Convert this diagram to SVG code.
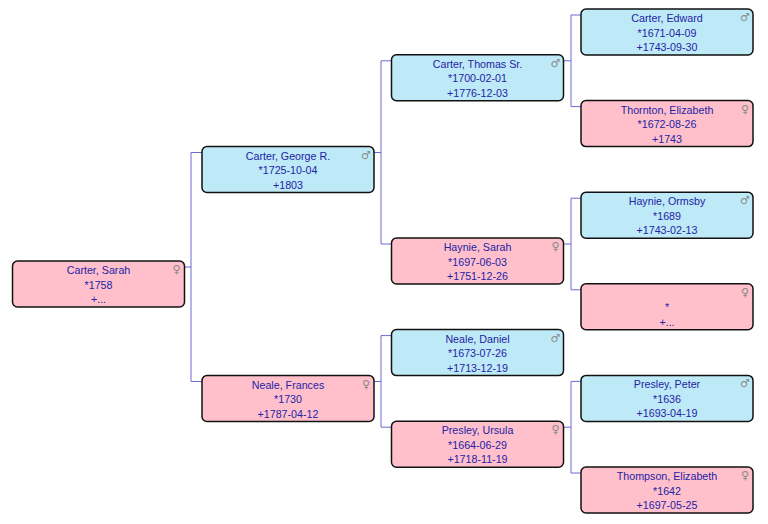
<svg xmlns="http://www.w3.org/2000/svg" width="768" height="524" viewBox="0 0 768 524">
<style>
.box{stroke:#111;stroke-width:1.5}
.m{fill:#bee9f6}
.f{fill:#ffc0cb}
.t{font-family:"Liberation Sans",Arial,sans-serif;font-size:10.7px;fill:#2323a6;text-anchor:middle}
.g{font-family:"DejaVu Sans",sans-serif;font-size:11px;fill:#8a8a8a;text-anchor:middle}
.c{fill:none;stroke:#6b6bd4;stroke-width:1}
</style>
<rect width="768" height="524" fill="#fff"/>
<g id="connectors">
<path class="c" d="M184.5,267 H191 M191,152.5 V381.5 M191,152.5 H202 M191,381.5 H202"/>
<path class="c" d="M374,152.5 H381 M381,60.8 V244 M381,60.8 H391.5 M381,244 H391.5"/>
<path class="c" d="M374,381.5 H381 M381,335.6 V427.2 M381,335.6 H391.5 M381,427.2 H391.5"/>
<path class="c" d="M563.5,60.8 H571 M571,15 V106.6 M571,15 H581 M571,106.6 H581"/>
<path class="c" d="M563.5,244 H571 M571,198.2 V289.8 M571,198.2 H581 M571,289.8 H581"/>
<path class="c" d="M563.5,427.2 H571 M571,381.4 V473 M571,381.4 H581 M571,473 H581"/>
</g>
<g id="sarah">
<rect class="box f" x="12.5" y="261" width="172" height="46" rx="5"/>
<text class="t" x="98.5" y="274">Carter, Sarah</text>
<text class="t" x="98.5" y="288.5">*1758</text>
<text class="t" x="98.5" y="303">+...</text>
<text class="g" x="176.5" y="273">♀</text>
</g>
<g id="george">
<rect class="box m" x="202" y="146.5" width="172" height="46" rx="5"/>
<text class="t" x="288" y="159.5">Carter, George R.</text>
<text class="t" x="288" y="174">*1725-10-04</text>
<text class="t" x="288" y="188.5">+1803</text>
<text class="g" x="366" y="158.5">♂</text>
</g>
<g id="frances">
<rect class="box f" x="202" y="375.5" width="172" height="46" rx="5"/>
<text class="t" x="288" y="388.5">Neale, Frances</text>
<text class="t" x="288" y="403">*1730</text>
<text class="t" x="288" y="417.5">+1787-04-12</text>
<text class="g" x="366" y="387.5">♀</text>
</g>
<g id="thomas">
<rect class="box m" x="391.5" y="54.8" width="172" height="46" rx="5"/>
<text class="t" x="477.5" y="67.8">Carter, Thomas Sr.</text>
<text class="t" x="477.5" y="82.3">*1700-02-01</text>
<text class="t" x="477.5" y="96.8">+1776-12-03</text>
<text class="g" x="555.5" y="66.8">♂</text>
</g>
<g id="haynie-sarah">
<rect class="box f" x="391.5" y="238" width="172" height="46" rx="5"/>
<text class="t" x="477.5" y="251">Haynie, Sarah</text>
<text class="t" x="477.5" y="265.5">*1697-06-03</text>
<text class="t" x="477.5" y="280">+1751-12-26</text>
<text class="g" x="555.5" y="250">♀</text>
</g>
<g id="daniel">
<rect class="box m" x="391.5" y="329.6" width="172" height="46" rx="5"/>
<text class="t" x="477.5" y="342.6">Neale, Daniel</text>
<text class="t" x="477.5" y="357.1">*1673-07-26</text>
<text class="t" x="477.5" y="371.6">+1713-12-19</text>
<text class="g" x="555.5" y="341.6">♂</text>
</g>
<g id="ursula">
<rect class="box f" x="391.5" y="421.2" width="172" height="46" rx="5"/>
<text class="t" x="477.5" y="434.2">Presley, Ursula</text>
<text class="t" x="477.5" y="448.7">*1664-06-29</text>
<text class="t" x="477.5" y="463.2">+1718-11-19</text>
<text class="g" x="555.5" y="433.2">♀</text>
</g>
<g id="edward">
<rect class="box m" x="581" y="9" width="172" height="46" rx="5"/>
<text class="t" x="667" y="22">Carter, Edward</text>
<text class="t" x="667" y="36.5">*1671-04-09</text>
<text class="t" x="667" y="51">+1743-09-30</text>
<text class="g" x="745" y="21">♂</text>
</g>
<g id="thornton">
<rect class="box f" x="581" y="100.6" width="172" height="46" rx="5"/>
<text class="t" x="667" y="113.6">Thornton, Elizabeth</text>
<text class="t" x="667" y="128.1">*1672-08-26</text>
<text class="t" x="667" y="142.6">+1743</text>
<text class="g" x="745" y="112.6">♀</text>
</g>
<g id="ormsby">
<rect class="box m" x="581" y="192.2" width="172" height="46" rx="5"/>
<text class="t" x="667" y="205.2">Haynie, Ormsby</text>
<text class="t" x="667" y="219.7">*1689</text>
<text class="t" x="667" y="234.2">+1743-02-13</text>
<text class="g" x="745" y="204.2">♂</text>
</g>
<g id="unknown">
<rect class="box f" x="581" y="283.8" width="172" height="46" rx="5"/>
<text class="t" x="667" y="311.3">*</text>
<text class="t" x="667" y="325.8">+...</text>
<text class="g" x="745" y="295.8">♀</text>
</g>
<g id="peter">
<rect class="box m" x="581" y="375.4" width="172" height="46" rx="5"/>
<text class="t" x="667" y="388.4">Presley, Peter</text>
<text class="t" x="667" y="402.9">*1636</text>
<text class="t" x="667" y="417.4">+1693-04-19</text>
<text class="g" x="745" y="387.4">♂</text>
</g>
<g id="thompson">
<rect class="box f" x="581" y="467" width="172" height="46" rx="5"/>
<text class="t" x="667" y="480">Thompson, Elizabeth</text>
<text class="t" x="667" y="494.5">*1642</text>
<text class="t" x="667" y="509">+1697-05-25</text>
<text class="g" x="745" y="479">♀</text>
</g>
</svg>
